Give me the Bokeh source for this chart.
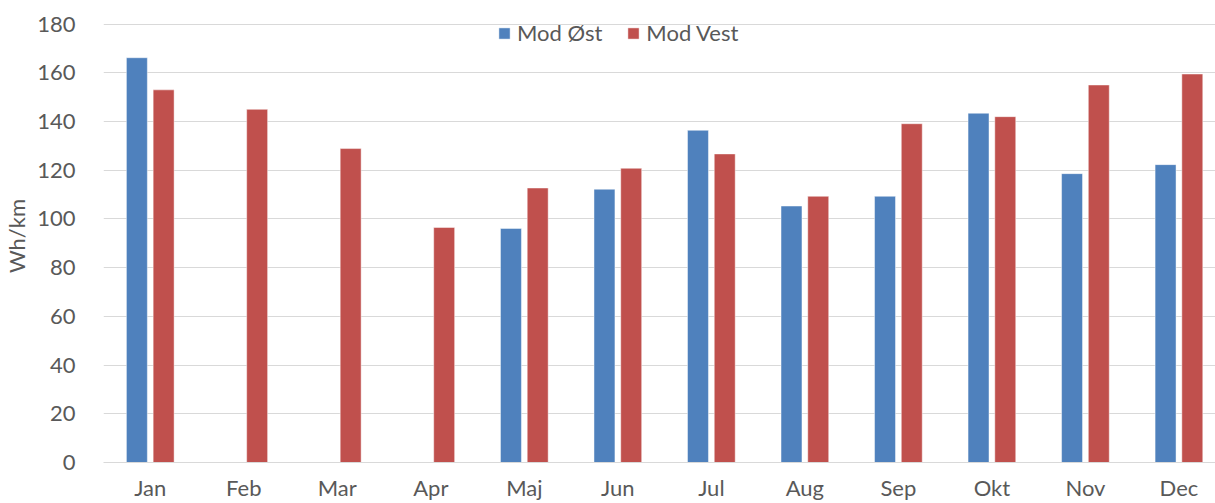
from bokeh.plotting import figure
from bokeh.models import ColumnDataSource, Range1d, FixedTicker
from bokeh.transform import dodge
from bokeh.embed import file_html
from bokeh.resources import INLINE

months = ["Jan", "Feb", "Mar", "Apr", "Maj", "Jun", "Jul", "Aug", "Sep", "Okt", "Nov", "Dec"]
mod_ost = [166.2, None, None, None, 96.1, 112.2, 136.4, 105.3, 109.3, 143.4, 118.6, 122.3]
mod_vest = [153.0, 145.0, 128.9, 96.5, 112.7, 120.8, 126.7, 109.3, 139.1, 142.0, 155.0, 159.5]
y_ticks = [0, 20, 40, 60, 80, 100, 120, 140, 160, 180]

FONT = "Lato"
FS = "22px"
TXT = "#595959"
BLUE = "#4F81BD"
RED = "#C0504D"

xpos = [i + 0.5 for i in range(len(months))]
ost_src = ColumnDataSource(dict(x=[x for x, v in zip(xpos, mod_ost) if v is not None],
                                top=[v for v in mod_ost if v is not None]))
vest_src = ColumnDataSource(dict(x=xpos, top=mod_vest))

W, H = 1215, 503
LEFT = 102
px_per_unit = 93.6
p = figure(width=W, height=H, output_backend="svg", toolbar_location=None,
           x_range=Range1d(0, (W - LEFT) / px_per_unit), y_range=Range1d(0, 186),
           min_border_left=LEFT, min_border_top=9, min_border_right=0, min_border_bottom=5)

p.vbar(x=dodge("x", -0.143), top="top", width=0.224, source=ost_src,
       fill_color=BLUE, line_color="white", line_alpha=0.45, line_width=1, legend_label="Mod Øst")
p.vbar(x=dodge("x", 0.143), top="top", width=0.224, source=vest_src,
       fill_color=RED, line_color="white", line_alpha=0.45, line_width=1, legend_label="Mod Vest")

p.outline_line_color = None
p.background_fill_color = "white"
p.xgrid.grid_line_color = None
p.ygrid.grid_line_color = "#d9d9d9"
p.ygrid.grid_line_width = 1
p.ygrid.ticker = FixedTicker(ticks=y_ticks)

p.yaxis.ticker = FixedTicker(ticks=y_ticks)
p.yaxis.axis_line_color = None
p.yaxis.major_tick_line_color = None
p.yaxis.minor_tick_line_color = None
p.yaxis.major_label_standoff = 22
p.yaxis.major_label_text_font = FONT
p.yaxis.major_label_text_font_size = FS
p.yaxis.major_label_text_color = TXT
p.yaxis.axis_label = "Wh/km"
p.yaxis.axis_label_text_font = FONT
p.yaxis.axis_label_text_font_size = FS
p.yaxis.axis_label_text_font_style = "normal"
p.yaxis.axis_label_text_color = TXT
p.yaxis.axis_label_standoff = 4

p.xaxis.ticker = FixedTicker(ticks=xpos)
p.xaxis.major_label_overrides = {x: m for x, m in zip(xpos, months)}
p.xaxis.axis_line_color = "#d9d9d9"
p.xaxis.axis_line_width = 1
p.xaxis.major_tick_line_color = None
p.xaxis.minor_tick_line_color = None
p.xaxis.major_label_standoff = 5
p.xaxis.major_label_text_font = FONT
p.xaxis.major_label_text_font_size = FS
p.xaxis.major_label_text_color = TXT

lg = p.legend[0]
lg.orientation = "horizontal"
lg.location = (394, 416)
lg.padding = 0
lg.margin = 0
lg.spacing = 24
lg.glyph_width = 14
lg.glyph_height = 14
lg.label_standoff = 6
lg.label_height = 26
lg.label_text_font = FONT
lg.label_text_font_size = FS
lg.label_text_color = TXT
lg.background_fill_alpha = 0
lg.border_line_alpha = 0

open("out.html", "w").write(file_html(p, INLINE))
